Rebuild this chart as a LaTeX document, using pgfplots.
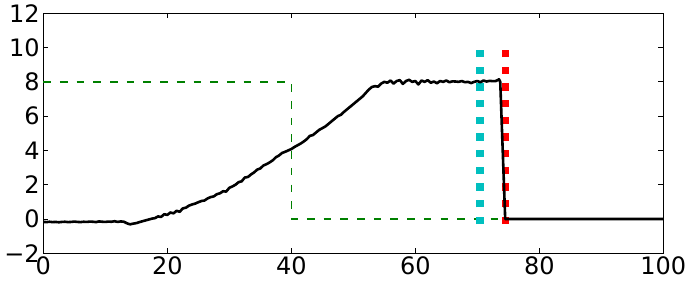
\documentclass[border=0pt]{standalone}
\usepackage{pgfplots}
\pgfplotsset{compat=1.18}
\usepackage{fontspec}
\setmainfont{DejaVu Sans}
\definecolor{mgreen}{rgb}{0,0.5,0}
\definecolor{mcyan}{rgb}{0,0.75,0.75}
\begin{document}
\begin{tikzpicture}
\path[use as bounding box] (-43.3pt,-27.7pt) rectangle (644.7pt,253.3pt);
\begin{axis}[
  at={(0,0)}, anchor=south west,
  scale only axis, width=620pt, height=240pt,
  xmin=0, xmax=100, ymin=-2, ymax=12,
  xtick={0,20,40,60,80,100},
  ytick={-2,0,2,4,6,8,10,12},
  yticklabels={−2,0,2,4,6,8,10,12},
  tick align=inside, major tick length=5pt,
  tick style={black, line width=0.8pt},
  axis line style={line width=1pt},
  ticklabel style={font=\fontsize{24}{24}\selectfont},
  /pgf/number format/assume math mode=true,
  clip=false,
]
\addplot[mgreen, line width=1.3pt, dash pattern=on 7.6pt off 9.1pt] coordinates {(0,8) (40,8) (40,0) (74.5,0)};
\addplot[mcyan, line width=7.3pt, dash pattern=on 7.3pt off 9.4pt] coordinates {(70.45,-0.3) (70.45,9.87)};
\addplot[red, line width=7.3pt, dash pattern=on 7.3pt off 9.4pt] coordinates {(74.5,-0.3) (74.5,9.87)};
\addplot[black, line width=2.6pt, line join=round] coordinates {
(0,-0.17) (0.5,-0.18) (1,-0.16) (1.5,-0.18) (2,-0.17) (2.5,-0.19) (3,-0.17) (3.5,-0.16) (4,-0.18) (4.5,-0.17)
(5,-0.15) (5.5,-0.17) (6,-0.18) (6.5,-0.16) (7,-0.17) (7.5,-0.15) (8,-0.16) (8.5,-0.18) (9,-0.14) (9.5,-0.16)
(10,-0.17) (10.5,-0.15) (11,-0.16) (11.5,-0.13) (12,-0.17) (12.5,-0.14) (13,-0.16) (13.5,-0.25) (14,-0.31) (14.5,-0.27)
(15,-0.24) (15.5,-0.18) (16,-0.13) (16.5,-0.08) (17,-0.03) (17.5,0.02) (18,0.05) (18.5,0.15) (19,0.12) (19.5,0.28)
(20,0.24) (20.5,0.38) (21,0.33) (21.5,0.48) (22,0.42) (22.5,0.62) (23,0.66) (23.5,0.78) (24,0.85) (24.5,0.9)
(25,0.98) (25.5,1.05) (26,1.08) (26.5,1.2) (27,1.28) (27.5,1.32) (28,1.45) (28.5,1.5) (29,1.62) (29.5,1.6)
(30,1.82) (30.5,1.9) (31,2.0) (31.5,2.15) (32,2.2) (32.5,2.42) (33,2.45) (33.5,2.6) (34,2.72) (34.5,2.88)
(35,2.95) (35.5,3.12) (36,3.2) (36.5,3.3) (37,3.42) (37.5,3.6) (38,3.7) (38.5,3.85) (39,3.92) (39.5,4.0)
(40,4.08) (40.5,4.2) (41,4.3) (41.5,4.4) (42,4.52) (42.5,4.66) (43,4.85) (43.5,4.9) (44,5.05) (44.5,5.2)
(45,5.3) (45.5,5.4) (46,5.55) (46.5,5.7) (47,5.85) (47.5,6.0) (48,6.08) (48.5,6.25) (49,6.4) (49.5,6.55)
(50,6.7) (50.5,6.85) (51,7.0) (51.5,7.15) (52,7.35) (52.5,7.55) (53,7.7) (53.5,7.75) (54,7.72) (54.5,7.9)
(55,8.0) (55.5,7.95) (56,8.08) (56.5,7.9) (57,8.05) (57.5,8.1) (58,7.88) (58.5,8.05) (59,8.12) (59.5,8.0)
(60,8.05) (60.5,7.85) (61,8.08) (61.5,8.0) (62,8.1) (62.5,7.95) (63,8.02) (63.5,7.92) (64,8.05) (64.5,8.0)
(65,8.08) (65.5,7.98) (66,8.03) (66.5,8.02) (67,8.0) (67.5,8.05) (68,7.98) (68.5,8.0) (69,7.93) (69.5,8.0)
(70,8.05) (70.5,7.98) (71,8.08) (71.5,8.02) (72,8.06) (72.5,8.04) (73,8.05) (73.5,8.15) (73.7,8.0) (74.5,0)
(100,0)};
\end{axis}
\end{tikzpicture}
\end{document}
